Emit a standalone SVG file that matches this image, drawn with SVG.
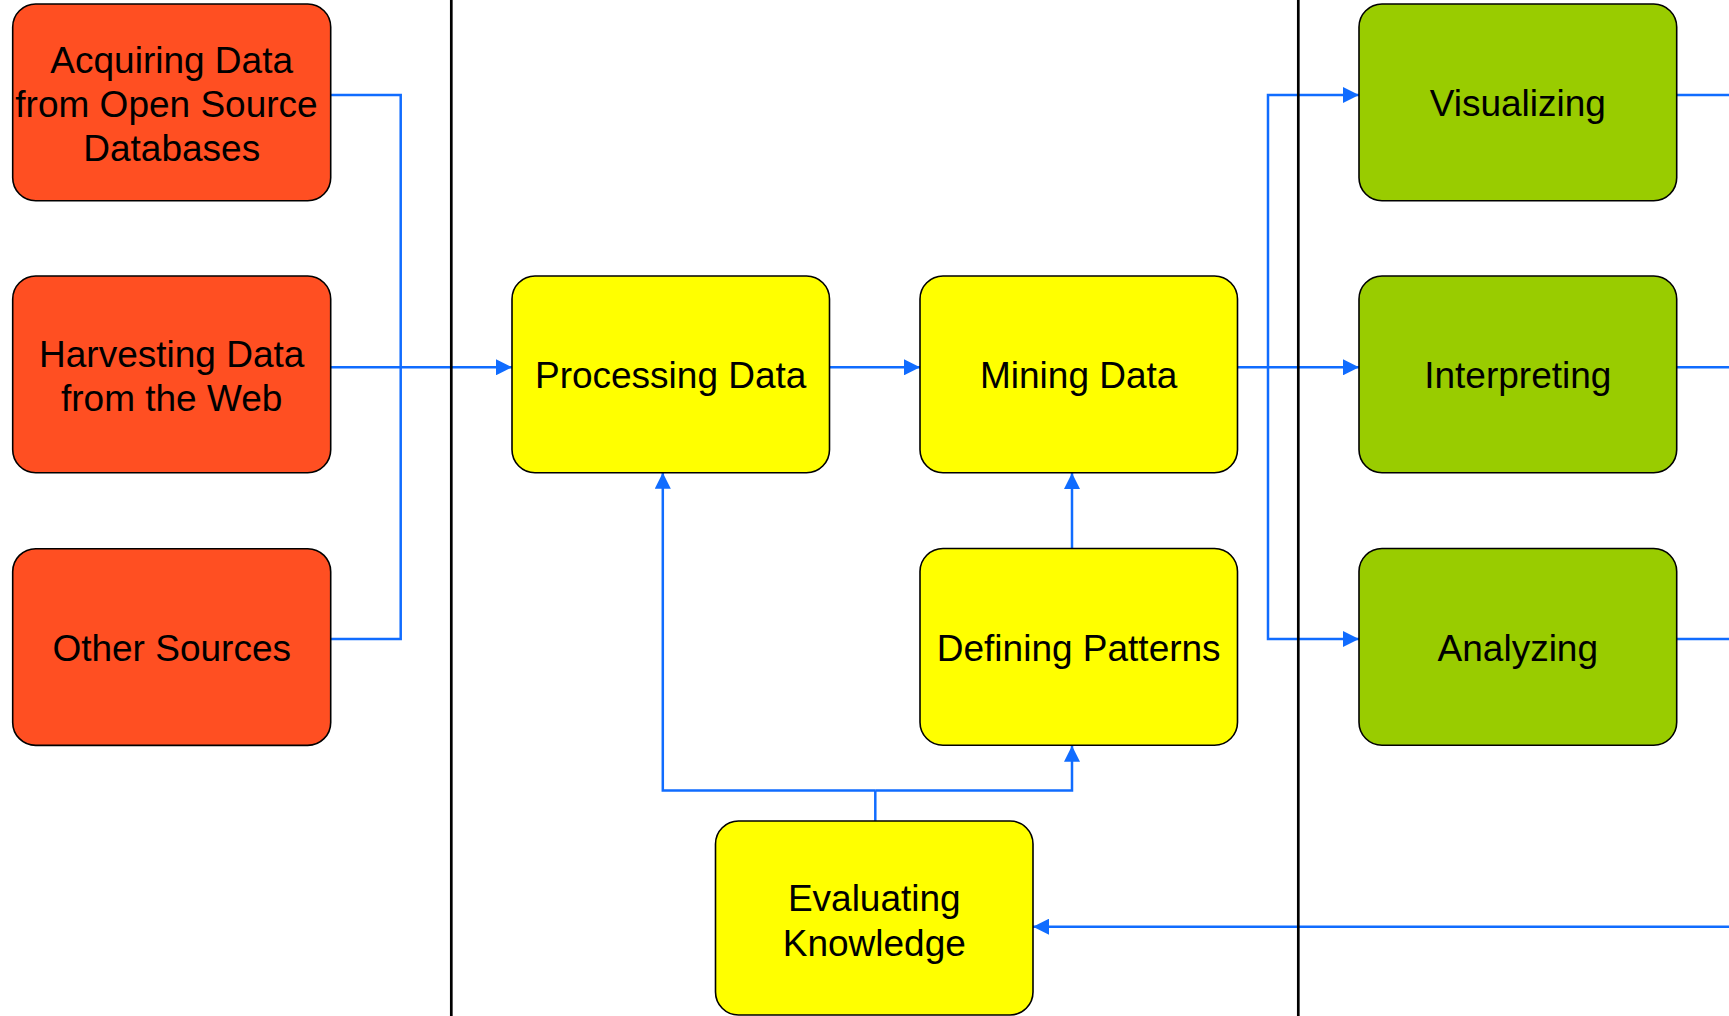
<svg xmlns="http://www.w3.org/2000/svg" width="1729" height="1016" viewBox="0 0 1729 1016">
  <style>
    .box { stroke: #000; stroke-width: 1.6; }
    .red { fill: #FF4F22; }
    .yel { fill: #FFFF00; }
    .grn { fill: #99CC00; }
    .lbl { font-family: "Liberation Sans", Arial, sans-serif; font-size: 37px; fill: #000; text-anchor: middle; }
    .con { fill: none; stroke: #106CFF; stroke-width: 2.5; }
    .arr { marker-end: url(#ah); }
    .div { stroke: #000; stroke-width: 2.7; }
  </style>
  <defs>
    <marker id="ah" markerUnits="userSpaceOnUse" markerWidth="16" markerHeight="16" refX="16" refY="8" orient="auto">
      <path d="M0,0 L16,8 L0,16 z" fill="#106CFF"/>
    </marker>
  </defs>
  <rect width="1729" height="1016" fill="#fff"/>

  <g id="connectors">
    <path class="con" d="M330.7 95 H400.7 V639 H330.7"/>
    <path class="con arr" d="M330.7 367.3 H512"/>
    <path class="con arr" d="M829.5 367.3 H920"/>
    <path class="con arr" d="M1237.5 367.3 H1359"/>
    <path class="con arr" d="M1268 367.3 V95 H1359"/>
    <path class="con arr" d="M1268 367.3 V639 H1359"/>
    <path class="con arr" d="M1072 548.5 V473"/>
    <path class="con" d="M875.3 821 V790.5"/>
    <path class="con arr" d="M875.3 790.5 H1072 V745.7"/>
    <path class="con arr" d="M875.3 790.5 H662.8 V472.7"/>
    <path class="con" d="M1676.7 95 H1729"/>
    <path class="con" d="M1676.7 367.3 H1729"/>
    <path class="con" d="M1676.7 639 H1729"/>
    <path class="con arr" d="M1729 926.7 H1033"/>
  </g>

  <g id="dividers">
    <line class="div" x1="451.3" y1="0" x2="451.3" y2="1016"/>
    <line class="div" x1="1298.3" y1="0" x2="1298.3" y2="1016"/>
  </g>

  <g id="acquiring">
    <rect class="box red" x="12.7" y="4" width="318" height="196.7" rx="23"/>
    <text class="lbl" x="171.7" y="72.5">Acquiring Data</text>
    <text class="lbl" x="166.5" y="116.5">from Open Source</text>
    <text class="lbl" x="171.7" y="161">Databases</text>
  </g>
  <g id="harvesting">
    <rect class="box red" x="12.7" y="276" width="318" height="196.7" rx="23"/>
    <text class="lbl" x="171.7" y="366.5">Harvesting Data</text>
    <text class="lbl" x="171.7" y="411">from the Web</text>
  </g>
  <g id="other">
    <rect class="box red" x="12.7" y="548.7" width="318" height="196.7" rx="23"/>
    <text class="lbl" x="171.7" y="660.5">Other Sources</text>
  </g>

  <g id="processing">
    <rect class="box yel" x="512" y="276" width="317.5" height="196.7" rx="23"/>
    <text class="lbl" x="670.7" y="388">Processing Data</text>
  </g>
  <g id="mining">
    <rect class="box yel" x="920" y="276" width="317.5" height="196.7" rx="23"/>
    <text class="lbl" x="1078.7" y="388">Mining Data</text>
  </g>
  <g id="defining">
    <rect class="box yel" x="920" y="548.5" width="317.5" height="196.7" rx="23"/>
    <text class="lbl" x="1078.7" y="660.5">Defining Patterns</text>
  </g>
  <g id="evaluating">
    <rect class="box yel" x="715.5" y="821" width="317.5" height="194" rx="23"/>
    <text class="lbl" x="874.3" y="910.5">Evaluating</text>
    <text class="lbl" x="874.3" y="955.5">Knowledge</text>
  </g>

  <g id="visualizing">
    <rect class="box grn" x="1359" y="4" width="317.7" height="196.7" rx="23"/>
    <text class="lbl" x="1517.8" y="116">Visualizing</text>
  </g>
  <g id="interpreting">
    <rect class="box grn" x="1359" y="276" width="317.7" height="196.7" rx="23"/>
    <text class="lbl" x="1517.8" y="388">Interpreting</text>
  </g>
  <g id="analyzing">
    <rect class="box grn" x="1359" y="548.5" width="317.7" height="196.7" rx="23"/>
    <text class="lbl" x="1517.8" y="660.5">Analyzing</text>
  </g>
</svg>
